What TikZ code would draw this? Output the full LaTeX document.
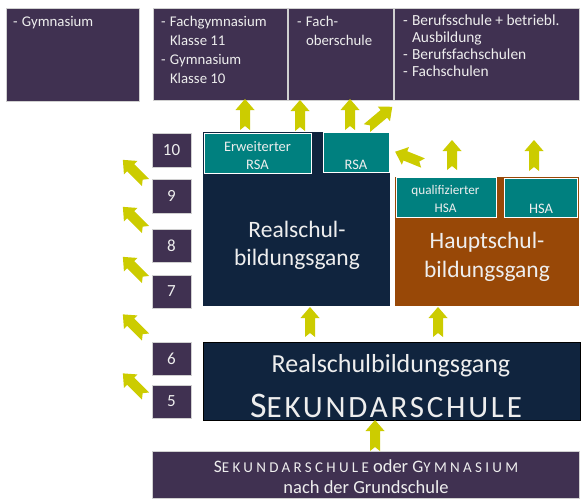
\documentclass[tikz,border=0pt]{standalone}
\usepackage{fontspec}
\setmainfont{Carlito}
\newfontfamily\scfont[LetterSpace=9]{Carlito}
\newfontfamily\scfontb[LetterSpace=22]{Carlito}
\definecolor{purp}{HTML}{403151}
\definecolor{navy}{HTML}{10243E}
\definecolor{tealc}{HTML}{00807F}
\definecolor{brownc}{HTML}{984807}
\definecolor{arrowc}{RGB}{204,204,0}
\definecolor{lightline}{HTML}{D0D0D0}
\definecolor{txtc}{HTML}{EEEEEE}
\begin{document}
\begin{tikzpicture}[x=1pt,y=-1pt,
  base box/.style={rectangle, anchor=north west, inner sep=0pt, outer sep=0pt},
  pbox/.style={base box, fill=purp, draw=lightline, line width=0.8pt},
  nbox/.style={base box, fill=purp, draw=lightline, line width=0.8pt, minimum width=39pt, text=txtc, font=\fontsize{17}{20}\selectfont},
  navybox/.style={base box, fill=navy},
  brownbox/.style={base box, fill=brownc},
  tealbox/.style={base box, fill=tealc, draw=white, line width=0.8pt},
  sekbox/.style={base box, fill=navy, draw=black, line width=0.8pt},
  txt/.style={inner sep=0pt, outer sep=0pt, text=txtc, align=left, anchor=north west},
  ctxt/.style={inner sep=0pt, outer sep=0pt, text=txtc, align=center},
  pics/barrow/.style={code={
    \fill[arrowc] (-5,0) -- (0,-4) -- (5,0) -- (5,{-(#1-11)}) -- (9.5,{-(#1-11)})
      -- (0,{-(#1)}) -- (-9.5,{-(#1-11)}) -- (-5,{-(#1-11)}) -- cycle;}}
]
\useasboundingbox (0,0) rectangle (588,500);
\fill[white] (0,0) rectangle (588,500);

% top boxes
\node[pbox, minimum width=133pt, minimum height=93pt] (gym) at (6,8) {};
\node[pbox, minimum width=134pt, minimum height=92pt] (fgym) at (153,8) {};
\node[pbox, minimum width=105pt, minimum height=92pt] (fos) at (288,8) {};
\node[pbox, minimum width=185pt, minimum height=92pt] (beruf) at (394,8) {};

\node[txt, font=\fontsize{14.8}{18.7}\selectfont] (gymT) at (13,13.9)
  {\strut\makebox[9pt][l]{-}Gymnasium};
\node[txt, font=\fontsize{14.8}{18.7}\selectfont] (fgymT) at (161,13.9)
  {\strut\makebox[9pt][l]{-}Fachgymnasium\\\makebox[9pt]{}Klasse 11\\\makebox[9pt][l]{-}Gymnasium\\\makebox[9pt]{}Klasse 10};
\node[txt, font=\fontsize{14.8}{18.7}\selectfont] (fosT) at (297,13.9)
  {\strut\makebox[9pt][l]{-}Fach-\\\makebox[9pt]{}oberschule};
\node[txt, font=\fontsize{15.4}{17.3}\selectfont] (berufT) at (403,12.9)
  {\strut\makebox[9pt][l]{-}Berufsschule + betriebl.\\\makebox[9pt]{}Ausbildung\\\makebox[9pt][l]{-}Berufsfachschulen\\\makebox[9pt][l]{-}Fachschulen};

% grade boxes
\node[nbox, minimum height=34pt] (n10) at (152,133) {10};
\node[nbox, minimum height=34pt] (n9) at (152,179) {9};
\node[nbox, minimum height=33pt] (n8) at (152,229) {8};
\node[nbox, minimum height=33pt] (n7) at (152,275) {7};
\node[nbox, minimum height=33pt] (n6) at (152,342) {6};
\node[nbox, minimum height=33pt] (n5) at (152,385) {5};

% Realschule block
\node[navybox, minimum width=187pt, minimum height=174pt] (rs) at (203,132) {};
\node[tealbox, minimum width=107pt, minimum height=40pt] (ersa) at (204,133) {};
\node[tealbox, minimum width=66pt, minimum height=40pt] (rsa) at (323,132) {};
\node[ctxt, anchor=north, font=\fontsize{14.5}{18}\selectfont] (ersaT) at (257.5,138.4) {\strut Erweiterter\\RSA};
\node[ctxt, anchor=base, font=\fontsize{14.5}{18}\selectfont] (rsaT) at (356,169) {RSA};
\node[ctxt, anchor=north, font=\fontsize{23.5}{28}\selectfont] (rsT) at (297,217.4) {\strut Realschul-\\bildungsgang};

% Hauptschule block
\node[brownbox, minimum width=184pt, minimum height=129pt] (hs) at (395,177) {};
\node[tealbox, minimum width=100pt, minimum height=40pt] (qhsa) at (396,177) {};
\node[tealbox, minimum width=73pt, minimum height=39pt] (hsa) at (504,178) {};
\node[ctxt, anchor=north, font=\fontsize{13.2}{18}\selectfont] (qhsaT) at (445.5,181.4) {\strut qualifizierter\\HSA};
\node[ctxt, anchor=base, font=\fontsize{14.5}{18}\selectfont] (hsaT) at (541,213) {HSA};
\node[ctxt, anchor=north, font=\fontsize{23.5}{29}\selectfont] (hsT) at (487,227.7) {\strut Hauptschul-\\bildungsgang};

% Sekundarschule block
\node[sekbox, minimum width=377pt, minimum height=78pt] (sek) at (203,342) {};
\node[ctxt, anchor=base, font=\fontsize{26}{30}\selectfont] (sekT1) at (391,372) {Realschulbildungsgang};
\node[ctxt, anchor=base] (sekT2) at (386,417)
  {\scfont{\fontsize{36}{40}\selectfont S}{\fontsize{31}{40}\selectfont EKUNDARSCHULE}};

% bottom box
\node[pbox, minimum width=427pt, minimum height=47pt] (grund) at (152,451) {};
\node[ctxt, anchor=base] (grundT1) at (366,472)
  {{\scfontb\fontsize{17.5}{21}\selectfont S\fontsize{15}{21}\selectfont EKUNDARSCHULE}\fontsize{18.5}{21}\selectfont{} oder {\scfontb\fontsize{17.5}{21}\selectfont G\fontsize{15}{21}\selectfont YMNASIUM}};
\node[ctxt, anchor=base, font=\fontsize{18.5}{21}\selectfont] (grundT2) at (366,493) {nach der Grundschule};

% arrows
\pic at (245,130) {barrow=31};
\pic at (300,131) {barrow=31};
\pic at (350,130) {barrow=31};
\pic[rotate=-50] at (367,128) {barrow=33};
\pic[rotate=68] at (423,163) {barrow=30};
\pic at (452,170) {barrow=30};
\pic at (534,171) {barrow=31};
\pic[rotate=45] at (145.5,182.5) {barrow=32};
\pic[rotate=45] at (145.5,229.5) {barrow=32};
\pic[rotate=45] at (145.5,279.5) {barrow=32};
\pic[rotate=45] at (145.5,337) {barrow=32};
\pic[rotate=45] at (145.5,396) {barrow=32};
\pic at (310,337) {barrow=30};
\pic at (438,337) {barrow=30};
\pic at (375,451) {barrow=31};
\end{tikzpicture}
\end{document}
